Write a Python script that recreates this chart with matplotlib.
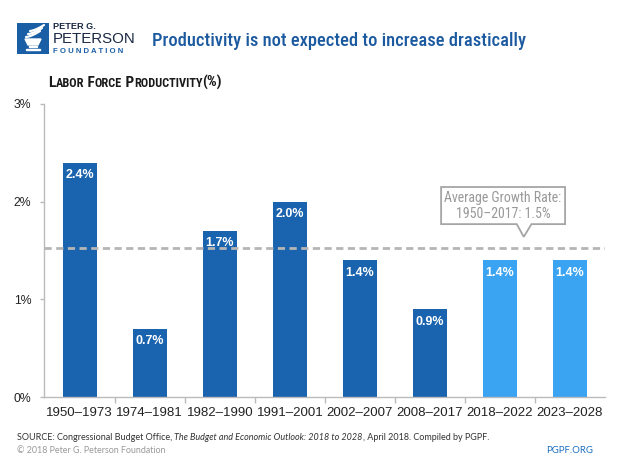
import numpy as np
import matplotlib.pyplot as plt
from matplotlib.patches import Polygon, Rectangle

# Data
periods = ["1950–1973", "1974–1981", "1982–1990", "1991–2001",
           "2002–2007", "2008–2017", "2018–2022", "2023–2028"]
productivity = [2.4, 0.7, 1.7, 2.0, 1.4, 0.9, 1.4, 1.4]
projected = [False, False, False, False, False, False, True, True]
avg_rate = 1.53
y_ticks = [0, 1, 2, 3]

DARK = "#1a63ae"
LIGHT = "#3aa3f2"
TITLE_BLUE = "#1c5aa0"
NARROW = ["Roboto Condensed", "DejaVu Sans"]
SANS = ["Liberation Sans", "DejaVu Sans"]
FOOT = ["Lato", "DejaVu Sans"]

W, H = 620, 465
fig = plt.figure(figsize=(6.2, 4.65), dpi=100)
renderer = fig.canvas.get_renderer()


def fx(px):
    return px / W


def fy(py):
    return 1 - py / H


def draw_runs(x_px, y_px, runs):
    # place text pieces one after another on a common baseline
    x = fx(x_px)
    for s, props in runs:
        t = fig.text(x, fy(y_px), s, va="baseline", ha="left", **props)
        bb = t.get_window_extent(renderer)
        x += bb.width / W


def small_caps(x_px, y_px, s, big, small, **props):
    # group letters into runs of the same size
    runs = []
    for ch in s:
        size = small if ch.islower() else big
        if runs and runs[-1][1]["fontsize"] == size:
            runs[-1] = (runs[-1][0] + ch.upper(), runs[-1][1])
        else:
            runs.append((ch.upper(), dict(fontsize=size, **props)))
    draw_runs(x_px, y_px, runs)


# Main axes
ax = fig.add_axes([fx(44), fy(397), (605 - 44) / W, (397 - 104) / H])
x = np.arange(len(periods))
colors = [LIGHT if p else DARK for p in projected]
ax.bar(x, productivity, width=0.48, color=colors, zorder=2)

for xi, v in zip(x, productivity):
    ax.annotate(f"{v:.1f}%", (xi, v), xytext=(0, -9), textcoords="offset points",
                ha="center", va="center", color="white", fontsize=9,
                fontweight="bold", family=SANS, zorder=5)

ax.axhline(avg_rate, color="#b5b5b5", lw=2, dashes=(2.6, 1.6), zorder=3)

# callout
box = Polygon([(5.16, 2.15), (6.93, 2.15), (6.93, 1.77), (6.45, 1.77),
               (6.34, 1.64), (6.24, 1.77), (5.16, 1.77)], closed=True,
              facecolor="white", edgecolor="#a5a5a5", lw=1.3, zorder=6,
              clip_on=False)
ax.add_patch(box)
ax.text(6.045, 1.955, "Average Growth Rate:\n1950–2017: 1.5%", ha="center",
        va="center", color="#999999", fontsize=10, family=NARROW,
        linespacing=1.2, zorder=7)

ax.set_xlim(-0.51, 7.5)
ax.set_ylim(0, 3)
ax.set_xticks(x, periods)
ax.set_xticks(x[:-1] + 0.5, minor=True)
ax.set_yticks(y_ticks, [f"{t}%" for t in y_ticks])
ax.tick_params(axis="x", which="major", length=0, pad=7, labelsize=9.5,
               labelcolor="#222222")
ax.tick_params(axis="x", which="minor", length=4, color="#bbbbbb", width=1)
ax.tick_params(axis="y", length=3, color="#bbbbbb", width=1, pad=6,
               labelsize=8.8, labelcolor="#222222")
for lab in ax.get_xticklabels() + ax.get_yticklabels():
    lab.set_family(SANS)
for side in ["top", "right"]:
    ax.spines[side].set_visible(False)
for side in ["left", "bottom"]:
    ax.spines[side].set_color("#bbbbbb")
    ax.spines[side].set_linewidth(1)

# Logo
logo = fig.add_axes([fx(17), fy(54), 32 / W, 31 / H])
logo.set_xlim(0, 32)
logo.set_ylim(0, 31)
logo.axis("off")
logo.add_patch(Rectangle((0, 0), 32, 31, color="#1a5fa6"))
logo.add_patch(Polygon([(8, 15), (24, 15), (21, 9), (11, 9)], color="white"))
logo.add_patch(Rectangle((12, 6.5), 8, 1.3, color="white"))
logo.add_patch(Rectangle((9, 3.5), 14, 1.6, color="white"))
for k in range(3):
    t = np.linspace(0, 1, 20)
    logo.plot(9 + k * 2 + t * 14, 17 + k * 3 + 6 * t ** 1.5, color="white",
              lw=1.6, solid_capstyle="round")

fig.text(fx(53), fy(29), "PETER G.", fontsize=6.6, fontweight="bold",
         color="#1b2a44", family=SANS, va="baseline")
fig.text(fx(53), fy(43), "PETERSON", fontsize=10.8, color="#1b2a44",
         family=SANS, va="baseline")
fig.text(fx(53), fy(53), "F O U N D A T I O N", fontsize=5.6,
         fontweight="bold", color="#1a5fa6", family=SANS, va="baseline")

# Title
fig.text(fx(152), fy(46), "Productivity is not expected to increase drastically",
         fontsize=13.3, fontweight="medium", color=TITLE_BLUE, family=NARROW,
         va="baseline")

# Subtitle in small caps
small_caps(48, 87, "Labor Force Productivity(%)", 11, 8.8, fontweight="bold",
           color="#1a1a1a", family=NARROW)

# Footer
foot = dict(fontsize=6.5, color="#333333", family=FOOT)
draw_runs(17, 440, [
    ("SOURCE: Congressional Budget Office, ", foot),
    ("The Budget and Economic Outlook: 2018 to 2028", dict(foot, style="italic")),
    (", April 2018. Compiled by PGPF.", foot),
])
fig.text(fx(17), fy(453), "© 2018 Peter G. Peterson Foundation", fontsize=6.4,
         color="#999999", family=FOOT, va="baseline")
fig.text(fx(593), fy(453), "PGPF.ORG", fontsize=6.9, color="#1a6fc0",
         family=FOOT, va="baseline", ha="right")

fig.savefig("out.png", dpi=100)
